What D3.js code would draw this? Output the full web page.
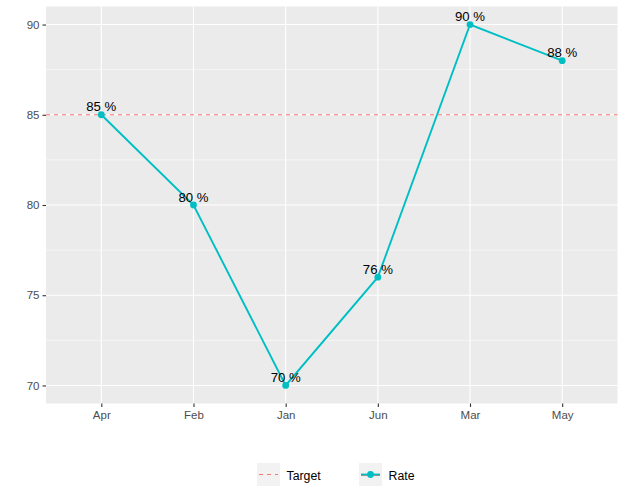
<!DOCTYPE html>
<html>
<head>
<meta charset="utf-8">
<script src="https://cdn.jsdelivr.net/npm/d3@7"></script>
<style>
  html, body { margin: 0; padding: 0; background: #fff; }
  svg { display: block; font-family: "Liberation Sans", Arial, sans-serif; }
</style>
</head>
<body>
<svg id="chart" width="626" height="501"></svg>
<script>
const months = ["Apr", "Feb", "Jan", "Jun", "Mar", "May"];
const rates = [85, 80, 70, 76, 90, 88];
const targetValue = 85;
const yTicks = [70, 75, 80, 85, 90];
const yMinor = [72.5, 77.5, 82.5, 87.5];
const legendLabels = ["Target", "Rate"];

const svg = d3.select("#chart");
const panel = { left: 46, right: 617.5, top: 6.5, bottom: 403.5 };

const x = d3.scalePoint().domain(months).range([panel.left, panel.right]).padding(0.6);
const y = d3.scaleLinear().domain([69, 91]).range([panel.bottom, panel.top]);

const teal = "#00BFC4", red = "#F8766D";

// panel background
svg.append("rect")
  .attr("x", panel.left).attr("y", panel.top)
  .attr("width", panel.right - panel.left).attr("height", panel.bottom - panel.top)
  .attr("fill", "#EBEBEB");

// minor gridlines
svg.append("g").selectAll("line").data(yMinor).join("line")
  .attr("x1", panel.left).attr("x2", panel.right)
  .attr("y1", d => y(d)).attr("y2", d => y(d))
  .attr("stroke", "#fff").attr("stroke-width", 0.55);

// major gridlines
svg.append("g").selectAll("line").data(yTicks).join("line")
  .attr("x1", panel.left).attr("x2", panel.right)
  .attr("y1", d => y(d)).attr("y2", d => y(d))
  .attr("stroke", "#fff").attr("stroke-width", 1.1);
svg.append("g").selectAll("line").data(months).join("line")
  .attr("x1", d => x(d)).attr("x2", d => x(d))
  .attr("y1", panel.top).attr("y2", panel.bottom)
  .attr("stroke", "#fff").attr("stroke-width", 1.1);

// target line
svg.append("line")
  .attr("x1", panel.left).attr("x2", panel.right)
  .attr("y1", y(targetValue)).attr("y2", y(targetValue))
  .attr("stroke", red).attr("stroke-width", 1).attr("stroke-dasharray", "4,4");

// rate line
const data = months.map((m, i) => ({ m, v: rates[i] }));
svg.append("path").datum(data)
  .attr("d", d3.line().x(d => x(d.m)).y(d => y(d.v)))
  .attr("fill", "none").attr("stroke", teal).attr("stroke-width", 1.9);

svg.append("g").selectAll("circle").data(data).join("circle")
  .attr("cx", d => x(d.m)).attr("cy", d => y(d.v)).attr("r", 3.4)
  .attr("fill", teal);

// labels
svg.append("g").selectAll("text").data(data).join("text")
  .attr("x", d => x(d.m)).attr("y", d => y(d.v) - 3.5)
  .attr("text-anchor", "middle")
  .attr("font-size", "13.2px").attr("fill", "#000")
  .text(d => d.v + " %");

// axes
const yAxis = d3.axisLeft(y).tickValues(yTicks).tickSize(3.5).tickPadding(3);
const gy = svg.append("g").attr("transform", `translate(${panel.left},0)`).call(yAxis);
const xAxis = d3.axisBottom(x).tickSize(3.5).tickPadding(4);
const gx = svg.append("g").attr("transform", `translate(0,${panel.bottom})`).call(xAxis);
[gy, gx].forEach(g => {
  g.select(".domain").remove();
  g.selectAll(".tick line").attr("stroke", "#333").attr("stroke-width", 1.1);
  g.selectAll(".tick text").attr("fill", "#4D4D4D").attr("font-size", "11.5px")
    .attr("font-family", "Liberation Sans, Arial, sans-serif");
});

// legend
const legend = svg.append("g");
const keyX = [257, 359];
legendLabels.forEach((lab, i) => {
  const g = legend.append("g").attr("transform", `translate(${keyX[i]},463)`);
  g.append("rect").attr("width", 23).attr("height", 23).attr("fill", "#F2F2F2");
  if (lab === "Target") {
    g.append("line").attr("x1", 2).attr("x2", 21).attr("y1", 11.5).attr("y2", 11.5)
      .attr("stroke", red).attr("stroke-width", 1).attr("stroke-dasharray", "4,4");
  } else {
    g.append("line").attr("x1", 2).attr("x2", 21).attr("y1", 12.5).attr("y2", 12.5)
      .attr("stroke", red).attr("stroke-width", 1);
    g.append("line").attr("x1", 2).attr("x2", 21).attr("y1", 11.5).attr("y2", 11.5)
      .attr("stroke", teal).attr("stroke-width", 1.9);
    g.append("circle").attr("cx", 11.5).attr("cy", 11.5).attr("r", 3.4).attr("fill", teal);
  }
  g.append("text").attr("x", 29.5).attr("y", 16.5)
    .attr("font-size", "12.3px").attr("fill", "#000").text(lab);
});
</script>
</body>
</html>
